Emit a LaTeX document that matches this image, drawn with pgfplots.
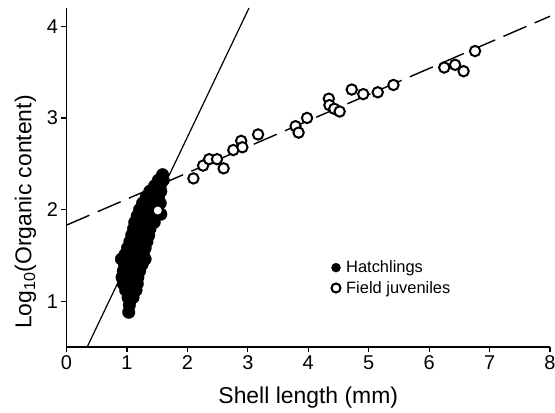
\documentclass[border=0pt]{standalone}
\usepackage{fontspec}
\setmainfont{Liberation Sans}
\usepackage{pgfplots}
\pgfplotsset{compat=1.18}

% Field-caught juveniles: shell length (mm), log10 organic content
\pgfplotstableread{
x    y
2.10 2.34
2.26 2.48
2.36 2.55
2.49 2.55
2.60 2.45
2.76 2.65
2.89 2.75
2.91 2.68
3.17 2.82
3.79 2.91
3.84 2.84
3.98 3.00
4.34 3.21
4.35 3.14
4.43 3.10
4.52 3.07
4.72 3.31
4.91 3.26
5.15 3.28
5.41 3.36
6.25 3.55
6.43 3.58
6.57 3.51
6.76 3.73
1.51 1.99
}\juveniles

% Laboratory hatchlings
\pgfplotstableread{
x    y
1.59 2.38
1.52 2.32
1.60 2.32
1.46 2.26
1.55 2.26
1.38 2.20
1.47 2.20
1.56 2.20
1.32 2.14
1.42 2.14
1.52 2.14
1.26 2.07
1.36 2.07
1.46 2.07
1.55 2.07
1.21 2.00
1.30 2.00
1.40 2.00
1.56 1.95
1.17 1.93
1.26 1.93
1.35 1.93
1.44 1.93
1.13 1.86
1.22 1.86
1.31 1.86
1.40 1.86
1.45 1.86
1.11 1.79
1.20 1.79
1.29 1.79
1.38 1.79
1.08 1.72
1.17 1.72
1.26 1.72
1.36 1.72
1.05 1.65
1.14 1.65
1.23 1.65
1.33 1.65
1.01 1.58
1.10 1.58
1.20 1.58
1.30 1.58
0.97 1.51
1.06 1.51
1.16 1.51
1.27 1.51
0.91 1.46
1.02 1.46
1.12 1.46
1.22 1.46
1.30 1.46
0.96 1.40
1.06 1.40
1.16 1.40
1.25 1.40
0.94 1.33
1.04 1.33
1.13 1.33
1.21 1.33
0.92 1.26
1.01 1.26
1.10 1.26
1.18 1.26
0.94 1.19
1.03 1.19
1.12 1.19
1.17 1.19
0.98 1.12
1.07 1.12
1.15 1.12
1.02 1.04
1.10 1.04
1.04 0.96
1.03 0.88
}\hatchlings

\begin{document}
\begin{tikzpicture}
\useasboundingbox (-66.5bp,-66bp) rectangle (488.5bp,347bp);
\begin{axis}[
  scale only axis,
  width=483.5bp, height=339bp,
  xmin=0, xmax=8, ymin=0.5, ymax=4.2,
  axis x line*=bottom, axis y line*=left,
  axis line style={line width=1.4bp, black},
  xtick={0,1,...,8}, ytick={1,2,3,4},
  tick align=outside, major tick length=5bp,
  tick style={line width=1.2bp, black},
  /pgf/number format/assume math mode=true,
  ticklabel style={font=\fontsize{20}{24}\selectfont},
  xlabel={Shell length (mm)},
  ylabel={Log\textsubscript{10}(Organic content)},
  every axis x label/.style={at={(axis description cs:0.5,0)}, yshift=-51bp,
    anchor=center, font=\fontsize{23}{27}\selectfont},
  every axis y label/.style={at={(axis description cs:0,0.398)}, xshift=-41bp,
    rotate=90, anchor=center, font=\fontsize{23}{27}\selectfont},
  clip=false,
  legend style={draw=none, fill=none, at={(axis cs:4.37,1.255)}, anchor=west,
    font=\fontsize{16.5}{19}\selectfont, row sep=3bp, inner sep=0pt},
  legend cell align=left,
  legend image code/.code={%
    \path (0bp,0bp) (13bp,0bp);
    \draw[#1, mark size=4.5bp] plot coordinates {(5bp,0bp)};},
]
% regression line, field juveniles
\addplot[forget plot, black, line width=1.4bp, dash pattern=on 25bp off 9bp]
  coordinates {(0,1.83) (8,4.11)};
% regression line, hatchlings
\addplot[forget plot, black, line width=1.2bp]
  coordinates {(0.342,0.5) (3.02,4.2)};
\addplot[only marks, mark=*, mark size=6.3bp, mark options={fill=black, draw=black, line width=0.4bp}]
  table[x=x, y=y] {\hatchlings};
\addlegendentry{Hatchlings}
\addplot[only marks, mark=*, mark size=5.2bp, mark options={fill=white, draw=black, line width=2bp}]
  table[x=x, y=y] {\juveniles};
\addlegendentry{Field juveniles}
\end{axis}
\end{tikzpicture}
\end{document}
